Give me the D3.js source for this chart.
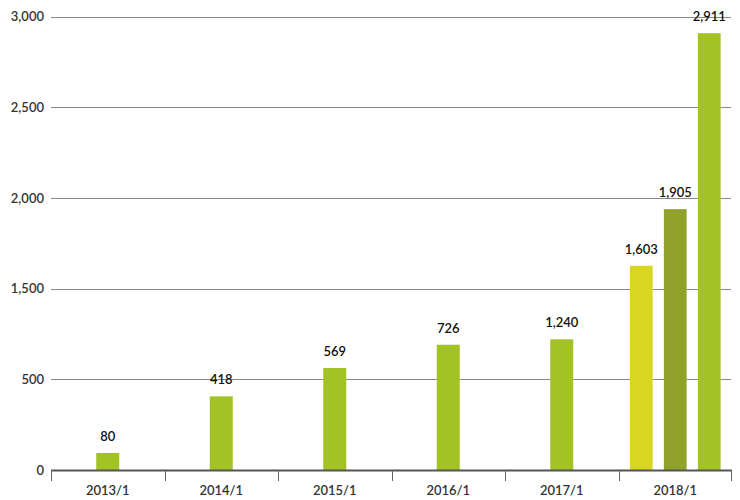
<!DOCTYPE html>
<html>
<head>
<meta charset="utf-8">
<script src="https://cdn.jsdelivr.net/npm/d3@7"></script>
<style>
  html, body { margin: 0; padding: 0; background: #fff; }
  svg { display: block; }
  text { font-family: Lato, "Noto Sans", sans-serif; }
</style>
</head>
<body>
<svg id="chart" width="740" height="500"></svg>
<script>
// ---- data ----
const categories = ["2013/1", "2014/1", "2015/1", "2016/1", "2017/1", "2018/1"];
const singleValues = [94, 406, 625, 881, 941];          // bars for 2013/1 .. 2017/1
const singleLabels = ["80", "418", "569", "726", "1,240"];
const groupKeys = ["a", "b", "c"];                      // three bars for 2018/1
const groupValues = [1626, 1938, 2908];
const groupLabels = ["1,603", "1,905", "2,911"];
const tickValues = [0, 500, 1500, 2000, 2500, 3000];
const tickLabels = ["0", "500", "1,500", "2,000", "2,500", "3,000"];

// ---- styles ----
const mainColor = "#a3c224";
const groupColors = ["#d8d620", "#90a22b", "#a3c224"];

const svg = d3.select("#chart");
const mLeft = 51, mRight = 732, mTop = 16.5, mBottom = 470;

const x = d3.scaleBand().domain(categories).range([mLeft, mRight]).padding(0);

// evenly spaced gridlines labelled as in the picture
const step = (mBottom - mTop) / (tickValues.length - 1);
const y = d3.scaleLinear()
  .domain(tickValues)
  .range(tickValues.map((d, i) => mBottom - i * step));

// gridlines
const grid = svg.append("g");
grid.selectAll("line").data(tickValues.slice(1)).join("line")
  .attr("x1", mLeft).attr("x2", mRight - 1)
  .attr("y1", d => Math.round(y(d)) + 0.5).attr("y2", d => Math.round(y(d)) + 0.5)
  .attr("stroke", "#8a8a8a").attr("stroke-width", 1);

// y labels
const yAxis = d3.axisLeft(y).tickValues(tickValues)
  .tickFormat((d, i) => tickLabels[i]).tickSize(0).tickPadding(7);
const yg = svg.append("g").attr("transform", `translate(${mLeft},0)`).call(yAxis);
yg.select(".domain").remove();
yg.selectAll("text").attr("font-size", 13).attr("fill", "#333").attr("font-weight", 600);

// single bars
const bw = 23;
svg.append("g").selectAll("rect").data(singleValues).join("rect")
  .attr("x", (d, i) => x(categories[i]) + (x.bandwidth() - bw) / 2)
  .attr("width", bw)
  .attr("y", d => y(d))
  .attr("height", d => mBottom - y(d))
  .attr("fill", mainColor);

svg.append("g").selectAll("text").data(singleValues).join("text")
  .attr("x", (d, i) => x(categories[i]) + x.bandwidth() / 2)
  .attr("y", d => y(d) - 12)
  .attr("text-anchor", "middle")
  .attr("font-size", 13).attr("font-weight", 600).attr("fill", "#111")
  .text((d, i) => singleLabels[i]);

// 2018 group
const gc = x(categories[5]) + x.bandwidth() / 2;
const xg = d3.scaleBand().domain(groupKeys).range([gc - 51, gc + 51])
  .paddingInner(0.33).paddingOuter(0.165);
svg.append("g").selectAll("rect").data(groupValues).join("rect")
  .attr("x", (d, i) => xg(groupKeys[i]))
  .attr("width", xg.bandwidth())
  .attr("y", d => y(d))
  .attr("height", d => mBottom - y(d))
  .attr("fill", (d, i) => groupColors[i]);

svg.append("g").selectAll("text").data(groupValues).join("text")
  .attr("x", (d, i) => xg(groupKeys[i]) + xg.bandwidth() / 2)
  .attr("y", d => y(d) - 12)
  .attr("text-anchor", "middle")
  .attr("font-size", 13).attr("font-weight", 600).attr("fill", "#111")
  .text((d, i) => groupLabels[i]);

// x axis
const xAxis = d3.axisBottom(x).tickSize(0).tickPadding(16);
const xa = svg.append("g").attr("transform", `translate(0,${mBottom})`).call(xAxis);
xa.select(".domain").remove();
xa.selectAll("text").attr("font-size", 13).attr("fill", "#333").attr("font-weight", 600);

svg.append("line")
  .attr("x1", mLeft).attr("x2", mRight)
  .attr("y1", mBottom + 0.5).attr("y2", mBottom + 0.5)
  .attr("stroke", "#555").attr("stroke-width", 2);

const bounds = categories.map(c => x(c)).concat([mRight - 1]);
svg.append("g").selectAll("line").data(bounds).join("line")
  .attr("x1", d => Math.round(d) + 0.5).attr("x2", d => Math.round(d) + 0.5)
  .attr("y1", mBottom).attr("y2", mBottom + 11)
  .attr("stroke", "#666").attr("stroke-width", 1);
</script>
</body>
</html>
